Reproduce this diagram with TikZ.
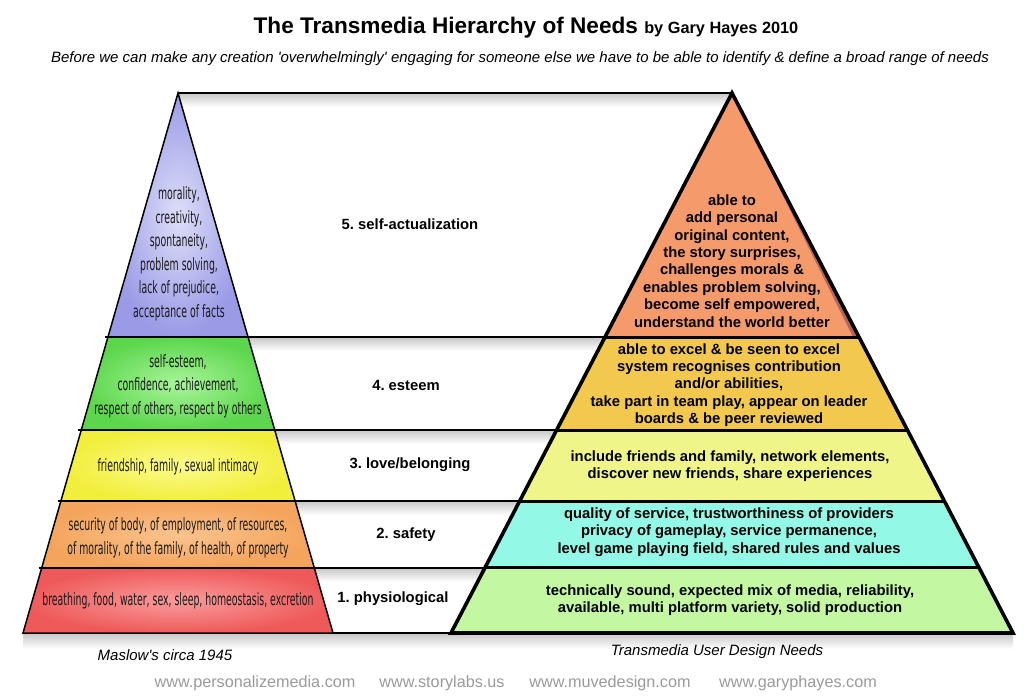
\documentclass[tikz,border=0pt]{standalone}
\usepackage{fontspec}
\setmainfont{Liberation Sans}
\newfontfamily\maslowfont{DejaVu Sans}[FakeStretch=0.55]
\usetikzlibrary{calc}
% Maslow (left) tiers: inner / outer colours
\definecolor{selfin}{HTML}{DEDEF9}
\definecolor{selfout}{HTML}{9A9AE6}
\definecolor{esteemin}{HTML}{A8F59A}
\definecolor{esteemout}{HTML}{5CD64C}
\definecolor{lovein}{HTML}{FBFB8C}
\definecolor{loveout}{HTML}{F2EE3C}
\definecolor{safein}{HTML}{FBC38E}
\definecolor{safeout}{HTML}{F4A45C}
\definecolor{physin}{HTML}{FB9C9C}
\definecolor{physout}{HTML}{EE5A5A}
% Transmedia (right) tiers
\definecolor{tmself}{HTML}{F59B6B}
\definecolor{tmedge}{HTML}{B5655A}
\definecolor{tmesteem}{HTML}{F2C94E}
\definecolor{tmlove}{HTML}{F0F58A}
\definecolor{tmsafe}{HTML}{94F8E6}
\definecolor{tmphys}{HTML}{C4F7A2}
\definecolor{webgray}{HTML}{9A9A9A}

\begin{document}
\begin{tikzpicture}[x=1pt, y=-1pt,
  tiertext/.style={align=center, inner sep=0pt,
    font=\fontsize{14.8}{17.4}\selectfont\bfseries},
  maslowtext/.style={align=center, inner sep=0pt, text=black!90,
    font=\maslowfont\fontsize{17}{23.5}\selectfont},
  levellabel/.style={inner sep=0pt, font=\fontsize{14.8}{17}\selectfont\bfseries},
  captiontext/.style={inner sep=0pt, font=\fontsize{15}{18}\selectfont\itshape},
  weblink/.style={inner sep=0pt, text=webgray, font=\fontsize{16.2}{19}\selectfont},
  connector/.style={line width=1.6pt, black},
  lineshadow/.style={top color=black!22, bottom color=white, draw=none},
]
  \useasboundingbox (0,0) rectangle (1024,700);

  % Title and subtitle
  \node[anchor=base, inner sep=0pt] (title) at (526,34)
    {\fontsize{22.6}{26}\selectfont\bfseries The Transmedia Hierarchy of Needs
     \fontsize{16.3}{20}\selectfont by Gary Hayes 2010};
  \node[anchor=base, inner sep=0pt, font=\fontsize{15}{18}\selectfont\itshape]
    (subtitle) at (520,63)
    {Before we can make any creation \textquotesingle overwhelmingly\textquotesingle\ engaging for someone else we have to be able to identify \& define a broad range of needs};

  % Pyramid corners
  \coordinate (la) at (178,93);
  \coordinate (lbl) at (23,633);
  \coordinate (lbr) at (333,633);
  \coordinate (ra) at (732,93);
  \coordinate (rbl) at (451,633);
  \coordinate (rbr) at (1013,633);

  % Level boundaries, as a fraction of the height
  \foreach \n/\t in {4/0.4519, 3/0.6241, 2/0.7556, 1/0.8796, 0/1} {
    \coordinate (ll\n) at ($(la)!\t!(lbl)$);
    \coordinate (lr\n) at ($(la)!\t!(lbr)$);
    \coordinate (rl\n) at ($(ra)!\t!(rbl)$);
    \coordinate (rr\n) at ($(ra)!\t!(rbr)$);
  }

  % Shadows under the connectors
  \shade[lineshadow] (la) rectangle ($(ra)+(0,14)$);
  \foreach \n in {4,3,2,1}
    \shade[lineshadow] (lr\n) rectangle ($(rl\n)+(0,14)$);
  \shade[lineshadow] (lbl) rectangle ($(rbr)+(0,16)$);

  % Maslow pyramid
  \shade[inner color=selfin, outer color=selfout] (la) -- (lr4) -- (ll4) -- cycle;
  \shade[inner color=esteemin, outer color=esteemout] (ll4) -- (lr4) -- (lr3) -- (ll3) -- cycle;
  \shade[inner color=lovein, outer color=loveout] (ll3) -- (lr3) -- (lr2) -- (ll2) -- cycle;
  \shade[inner color=safein, outer color=safeout] (ll2) -- (lr2) -- (lr1) -- (ll1) -- cycle;
  \shade[inner color=physin, outer color=physout] (ll1) -- (lr1) -- (lr0) -- (ll0) -- cycle;
  \draw[line width=1.5pt] (la) -- (lbr) -- (lbl) -- cycle;
  \foreach \n in {4,3,2,1}
    \draw[line width=1.5pt] ($(ll\n)+(-3,0)$) -- (lr\n);

  % Transmedia pyramid
  \fill[tmself] (ra) -- (rr4) -- (rl4) -- cycle;
  \fill[tmedge] (ra) -- (rr4) -- ($(rr4)+(-6,0)$) -- cycle;
  \fill[tmesteem] (rl4) -- (rr4) -- (rr3) -- (rl3) -- cycle;
  \fill[tmlove] (rl3) -- (rr3) -- (rr2) -- (rl2) -- cycle;
  \fill[tmsafe] (rl2) -- (rr2) -- (rr1) -- (rl1) -- cycle;
  \fill[tmphys] (rl1) -- (rr1) -- (rr0) -- (rl0) -- cycle;
  \foreach \n in {4,3,2,1}
    \draw[line width=3pt] (rl\n) -- (rr\n);
  \draw[line width=3.6pt] (ra) -- (rbr) -- (rbl) -- cycle;

  % Connectors between the pyramids
  \draw[connector] (la) -- (ra);
  \foreach \n in {4,3,2,1,0}
    \draw[connector] (lr\n) -- (rl\n);

  % Maslow texts
  \node[maslowtext] (mself) at (179,254)
    {morality,\\creativity,\\spontaneity,\\problem solving,\\lack of prejudice,\\acceptance of facts};
  \node[maslowtext] (mesteem) at (178,386)
    {self-esteem,\\confidence, achievement,\\respect of others, respect by others};
  \node[maslowtext] (mlove) at (178,467) {friendship, family, sexual intimacy};
  \node[maslowtext] (msafe) at (178,538)
    {security of body, of employment, of resources,\\of morality, of the family, of health, of property};
  \node[maslowtext] (mphys) at (178,601)
    {breathing, food, water, sex, sleep, homeostasis, excretion};

  % Level labels
  \node[levellabel] (lself) at (410,224) {5.\ self-actualization};
  \node[levellabel] (lesteem) at (406,385) {4.\ esteem};
  \node[levellabel] (llove) at (410,465) {3.\ love/belonging};
  \node[levellabel] (lsafe) at (406,535) {2.\ safety};
  \node[levellabel] (lphys) at (393,599) {1.\ physiological};

  % Transmedia texts
  \node[tiertext] (tself) at (732,261)
    {able to\\add personal\\original content,\\the story surprises,\\challenges morals \&\\enables problem solving,\\become self empowered,\\understand the world better};
  \node[tiertext] (testeem) at (729,385)
    {able to excel \& be seen to excel\\system recognises contribution\\and/or abilities,\\take part in team play, appear on leader\\boards \& be peer reviewed};
  \node[tiertext] (tlove) at (730,466)
    {include friends and family, network elements,\\discover new friends, share experiences};
  \node[tiertext] (tsafe) at (729,532)
    {quality of service, trustworthiness of providers\\privacy of gameplay, service permanence,\\level game playing field, shared rules and values};
  \node[tiertext] (tphys) at (730,600)
    {technically sound, expected mix of media, reliability,\\available, multi platform variety, solid production};

  % Captions
  \node[captiontext] (mcap) at (165,655) {Maslow\textquotesingle s circa 1945};
  \node[captiontext] (tcap) at (717,652) {Transmedia User Design Needs};

  % Web links
  \node[weblink] (web1) at (255,683) {www.personalizemedia.com};
  \node[weblink] (web2) at (442,683) {www.storylabs.us};
  \node[weblink] (web3) at (610,683) {www.muvedesign.com};
  \node[weblink] (web4) at (798,683) {www.garyphayes.com};
\end{tikzpicture}
\end{document}
